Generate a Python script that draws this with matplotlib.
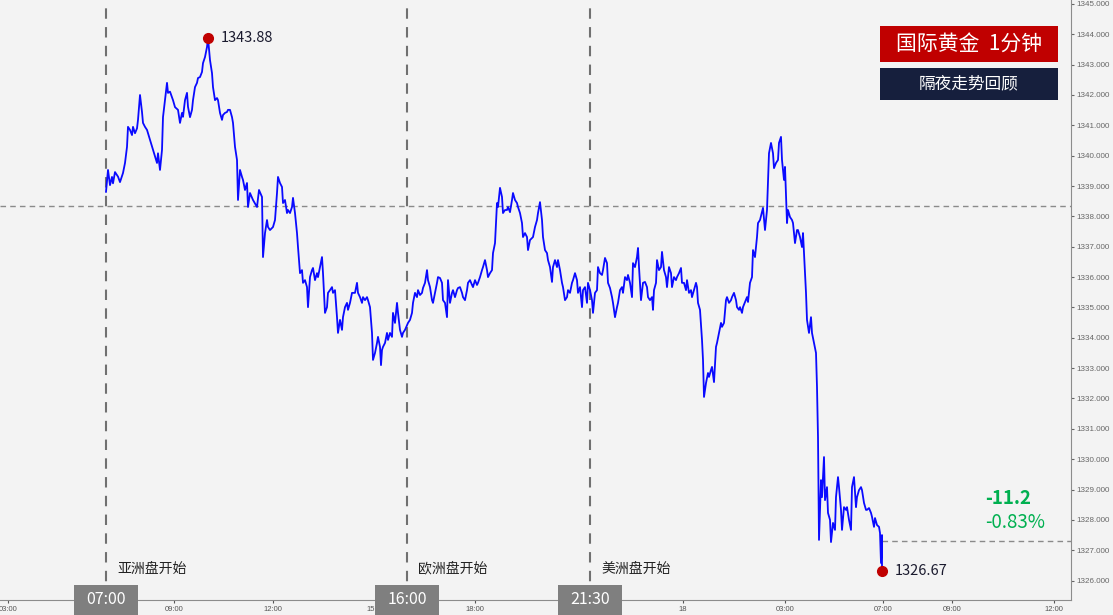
import matplotlib
matplotlib.use("Agg")
import matplotlib.pyplot as plt
import matplotlib.transforms as mtransforms
from matplotlib.patches import Rectangle
from matplotlib.ticker import MultipleLocator, FormatStrFormatter

plt.rcParams['font.family'] = ['Noto Sans CJK SC', 'DejaVu Sans']

# 1-minute gold price, bar offset from 07:00 (Asia open)
bars = [
    0, 2, 4, 6, 7, 9, 12, 14, 17, 19, 21, 22, 24, 26, 27, 29, 31, 32, 34, 36,
    37, 39, 41, 44, 47, 49, 51, 52, 54, 56, 57, 59, 61, 62, 64, 66, 67, 69, 72, 74,
    76, 77, 79, 81, 82, 84, 86, 87, 89, 91, 92, 94, 96, 97, 99, 101, 102, 104, 106, 107,
    109, 111, 112, 114, 116, 117, 119, 121, 122, 124, 126, 127, 129, 131, 132, 134, 136, 137, 139, 141,
    142, 144, 147, 151, 153,
    156, 157, 159, 161, 162, 164, 166, 167, 169, 171, 172, 174, 176, 177, 179, 181, 182, 184, 186, 187,
    189, 191, 192, 194, 196, 197, 199, 201, 202, 204, 206, 207, 209, 211, 212, 214, 216, 217, 219, 221,
    222, 224, 226, 227, 229, 231, 232, 234, 236, 237, 239, 241, 242, 244, 246, 249, 251, 252, 254, 256,
    257, 259, 261, 262, 264, 266, 267, 269, 271, 272, 274, 275, 276, 277, 279, 281, 282, 284, 286, 287,
    289, 291, 292, 294, 296, 297, 299, 302, 304, 306, 307, 309, 311, 312,
    314, 316, 317, 319, 321, 322, 324, 326, 327, 329, 331, 332, 334, 336, 337, 339, 341, 342, 344, 346,
    347, 349, 351, 352, 354, 356, 357, 359, 361, 362, 364, 366, 367, 369, 371, 372, 374, 376, 377, 379,
    381, 382, 384, 386, 387, 389, 391, 392, 394, 396, 397, 399, 401, 402, 404, 406, 407, 409, 411, 412,
    414, 416, 417, 419, 421, 422, 424, 426, 427, 429, 431, 432, 434, 436, 437, 439, 441, 442, 444, 446,
    447, 449, 451, 452, 454, 456, 457, 459, 461, 462, 464, 466, 467, 469, 471, 472, 474,
    476, 477, 479, 481, 482, 484, 486, 487, 489, 491, 492, 494, 496, 497, 499, 501, 502, 504, 506, 507,
    509, 511, 512, 514, 516, 517, 519, 521, 522, 524, 526, 527, 529, 531, 532, 533, 535, 537, 539, 541,
    542, 544, 546, 547, 548, 550, 551, 553, 555, 556, 558, 560, 561, 563, 565, 566, 568, 570, 571, 573,
    575, 576, 578, 580, 581, 583, 585, 586, 588, 590, 591, 592, 594, 596, 597, 598, 600, 602, 603, 605,
    606, 608, 610, 611, 613, 615, 616, 618, 620, 621, 623, 625, 626, 628, 630, 631, 633,
    634, 636, 637, 639, 641, 642, 644, 646, 647, 649, 651, 652, 654, 656, 657, 659, 661, 662, 663, 665,
    667, 668, 670, 672, 673, 675, 676, 678, 679, 681, 682, 684, 686, 687, 689, 691, 692, 694, 696, 697,
    698, 700, 701, 703, 705, 706, 708, 710, 711, 712, 713, 715, 716, 718, 719, 721, 722, 724, 725, 727,
    729, 730, 732, 733, 735, 736, 738, 740, 741, 743, 745, 746, 748, 750, 751, 753, 755, 756, 758, 760,
    761, 763, 765, 766, 768, 769, 771, 773, 774, 775, 776, 776,
]
prices = [
    1338.81, 1339.53, 1339.03, 1339.30, 1339.09, 1339.46, 1339.31, 1339.13, 1339.43, 1339.76,
    1340.29, 1340.95, 1340.85, 1340.68, 1340.95, 1340.74, 1340.90, 1341.18, 1342.00, 1341.44,
    1341.08, 1340.95, 1340.85, 1340.52, 1340.19, 1339.96, 1339.76, 1340.08, 1339.53, 1340.19,
    1341.27, 1341.83, 1342.40, 1342.07, 1342.11, 1341.93, 1341.83, 1341.60, 1341.51, 1341.08,
    1341.41, 1341.28, 1341.83, 1342.07, 1341.61, 1341.27, 1341.51, 1341.83, 1342.26, 1342.40,
    1342.56, 1342.59, 1342.76, 1343.05, 1343.25, 1343.58, 1343.88, 1343.15, 1342.72, 1342.26,
    1341.83, 1341.90, 1341.83, 1341.41, 1341.18, 1341.34, 1341.41, 1341.44, 1341.51, 1341.51,
    1341.27, 1341.08, 1340.29, 1339.86, 1338.54, 1339.53, 1339.30, 1339.20, 1338.87, 1339.10,
    1338.31, 1338.77, 1338.54, 1338.31, 1338.87,
    1338.64, 1336.66, 1337.45, 1337.88, 1337.65, 1337.55, 1337.62, 1337.65, 1337.88, 1338.77,
    1339.30, 1339.10, 1338.97, 1338.44, 1338.54, 1338.11, 1338.21, 1338.11, 1338.31, 1338.61,
    1338.11, 1337.45, 1336.99, 1336.13, 1336.23, 1335.81, 1335.90, 1335.67, 1335.01, 1336.00,
    1336.23, 1336.30, 1335.90, 1336.13, 1336.00, 1336.33, 1336.66, 1336.13, 1334.82, 1335.01,
    1335.48, 1335.57, 1335.67, 1335.48, 1335.57, 1334.68, 1334.16, 1334.59, 1334.26, 1334.68,
    1335.01, 1335.15, 1334.92, 1335.15, 1335.48, 1335.48, 1335.81, 1335.48, 1335.34, 1335.15,
    1335.34, 1335.24, 1335.34, 1335.24, 1335.01, 1334.16, 1333.27, 1333.50, 1333.83, 1334.03,
    1333.70, 1333.10, 1333.60, 1333.70, 1333.83, 1334.16, 1333.93, 1334.16, 1334.03, 1334.82,
    1334.49, 1335.15, 1334.82, 1334.26, 1334.03, 1334.16, 1334.26, 1334.49, 1334.59, 1334.82,
    1335.15, 1335.48, 1335.34, 1335.57,
    1335.41, 1335.48, 1335.64, 1335.81, 1336.23, 1335.90, 1335.67, 1335.24, 1335.15, 1335.48,
    1335.81, 1336.00, 1335.97, 1335.81, 1335.24, 1335.15, 1334.68, 1335.90, 1335.15, 1335.48,
    1335.57, 1335.34, 1335.57, 1335.64, 1335.67, 1335.48, 1335.34, 1335.24, 1335.57, 1335.81,
    1335.90, 1335.74, 1335.67, 1335.90, 1335.74, 1335.81, 1336.00, 1336.23, 1336.33, 1336.56,
    1336.23, 1336.00, 1336.13, 1336.23, 1336.79, 1337.12, 1338.44, 1338.31, 1338.94, 1338.64,
    1338.11, 1338.21, 1338.21, 1338.31, 1338.14, 1338.54, 1338.77, 1338.54, 1338.44, 1338.31,
    1338.11, 1337.78, 1337.32, 1337.45, 1337.32, 1336.89, 1337.22, 1337.29, 1337.32, 1337.65,
    1337.88, 1338.11, 1338.47, 1337.88, 1337.32, 1336.89, 1336.79, 1336.56, 1336.33, 1335.84,
    1336.33, 1336.56, 1336.33, 1336.56, 1336.23, 1335.81, 1335.67, 1335.24, 1335.34, 1335.57,
    1335.48, 1335.81, 1335.90, 1336.13, 1335.90, 1335.48, 1335.67,
    1335.01, 1335.57, 1335.67, 1335.15, 1335.81, 1335.57, 1335.24, 1334.82, 1335.48, 1335.57,
    1336.33, 1336.13, 1336.07, 1336.23, 1336.63, 1336.46, 1335.81, 1335.64, 1335.34, 1335.15,
    1334.68, 1335.01, 1335.15, 1335.57, 1335.67, 1335.48, 1336.00, 1335.90, 1336.07, 1335.81,
    1335.34, 1336.46, 1336.33, 1336.66, 1336.96, 1336.33, 1335.24, 1335.81, 1335.84, 1335.67,
    1335.34, 1335.24, 1335.34, 1334.92, 1335.57, 1335.81, 1336.56, 1336.23, 1336.33, 1336.83,
    1336.23, 1336.00, 1335.67, 1336.33, 1336.13, 1335.67, 1336.00, 1335.90, 1336.00, 1336.13,
    1336.30, 1335.81, 1335.81, 1335.57, 1335.90, 1335.48, 1335.57, 1335.34, 1335.57, 1335.81,
    1335.67, 1335.15, 1334.92, 1333.93, 1333.27, 1332.05, 1332.51, 1332.84, 1332.71, 1332.94,
    1333.04, 1332.54, 1333.70, 1333.83, 1334.16, 1334.49, 1334.36, 1334.49, 1335.24, 1335.34,
    1335.15, 1335.24, 1335.34, 1335.48, 1335.24, 1335.01, 1334.92,
    1335.01, 1334.82, 1335.01, 1335.18, 1335.34, 1335.18, 1335.81, 1336.00, 1336.89, 1336.66,
    1337.32, 1337.78, 1337.88, 1338.14, 1338.28, 1337.55, 1338.21, 1339.20, 1340.08, 1340.42,
    1340.08, 1339.59, 1339.76, 1339.86, 1340.42, 1340.62, 1339.86, 1339.20, 1339.63, 1337.78,
    1338.21, 1337.98, 1337.88, 1337.78, 1337.12, 1337.55, 1337.55, 1337.32, 1336.99, 1337.45,
    1336.79, 1335.48, 1334.59, 1334.16, 1334.68, 1334.16, 1333.83, 1333.50, 1332.38, 1330.73,
    1327.34, 1329.31, 1328.75, 1330.07, 1328.65, 1329.08, 1328.23, 1328.00, 1327.27, 1327.90,
    1327.67, 1328.75, 1329.41, 1329.08, 1328.33, 1327.67, 1328.42, 1328.33, 1328.42, 1328.00,
    1327.67, 1329.08, 1329.41, 1328.42, 1328.75, 1328.98, 1329.08, 1328.98, 1328.56, 1328.33,
    1328.33, 1328.39, 1328.23, 1328.10, 1327.77, 1328.06, 1327.83, 1327.77, 1327.57, 1326.58,
    1327.50, 1326.32,
]

session_bars = [0, 301, 484]
session_times = ['07:00', '16:00', '21:30']
session_names = ['亚洲盘开始', '欧洲盘开始', '美洲盘开始']

xtick_bars = [-98, 68, 167, 270, 369, 577, 679, 777, 846, 948]
xtick_labels = ['03:00', '09:00', '12:00', '15:00', '18:00', '18', '03:00', '07:00', '09:00', '12:00']

ref_price = 1338.35
close_price = 1327.3
low_label = '1326.67'
change_abs = '-11.2'
change_pct = '-0.83%'
title = '国际黄金  1分钟'
subtitle = '隔夜走势回顾'

bg = '#f3f3f3'
fig = plt.figure(figsize=(11.13, 6.15), dpi=100, facecolor=bg)
ax = fig.add_axes([0, 15 / 615, 1071 / 1113, 600 / 615])
ax.set_facecolor(bg)

ax.plot(bars, prices, color='#0a0aff', lw=1.3, zorder=3)
ax.set_xlim(-106, 965)
ax.set_ylim(1325.36, 1345.13)

# reference lines
ax.axhline(ref_price, color='#8a8a8a', lw=1, ls=(0, (4, 3)), zorder=2)
ax.hlines(close_price, bars[-1], 965, color='#8a8a8a', lw=1, ls=(0, (4, 3)), zorder=2)

trans = mtransforms.blended_transform_factory(ax.transData, ax.transAxes)
for b, t, name in zip(session_bars, session_times, session_names):
    ax.axvline(b, color='#707070', lw=1.5, ls=(0, (5, 4)), zorder=2)
    ax.add_patch(Rectangle((b - 32, -0.025), 64, 0.05, transform=trans,
                           facecolor='#7f7f7f', edgecolor='none', clip_on=False, zorder=6))
    ax.text(b, 0.0, t, transform=trans, ha='center', va='center', color='white',
            fontsize=11.5, zorder=7, clip_on=False)
    ax.text(b + 11, 0.052, name, transform=trans, ha='left', va='center',
            color='#222222', fontsize=10)

# high / low markers
i_max = prices.index(max(prices))
ax.plot(bars[i_max], prices[i_max], 'o', color='#c00000', ms=7, zorder=5)
ax.annotate(f'{prices[i_max]:.2f}', (bars[i_max], prices[i_max]), xytext=(13, 0),
            textcoords='offset pixels', va='center', fontsize=10.5, color='#1a1a2e')
ax.plot(bars[-1], prices[-1], 'o', color='#c00000', ms=7, zorder=5)
ax.annotate(low_label, (bars[-1], prices[-1]), xytext=(13, 0),
            textcoords='offset pixels', va='center', fontsize=10.5, color='#1a1a2e')

ax.text(879, 1328.72, change_abs, ha='left', va='center', fontsize=13.5,
        fontweight='bold', color='#00b050')
ax.text(879, 1327.90, change_pct, ha='left', va='center', fontsize=13.5,
        color='#00b050')

# axes styling
ax.yaxis.tick_right()
ax.yaxis.set_major_locator(MultipleLocator(1))
ax.yaxis.set_major_formatter(FormatStrFormatter('%.3f'))
ax.tick_params(axis='y', labelsize=5.8, colors='#666666', length=2.5, pad=1.5,
               labelfontfamily='Liberation Sans')
ax.set_xticks(xtick_bars, xtick_labels)
ax.tick_params(axis='x', labelsize=5.5, colors='#555555', length=2, pad=2,
               labelfontfamily='Liberation Sans')
for s in ['top', 'left']:
    ax.spines[s].set_visible(False)
for s in ['right', 'bottom']:
    ax.spines[s].set_color('#8c8c8c')

# title boxes
fig.add_artist(Rectangle((880 / 1113, 1 - 62 / 615), 178 / 1113, 36 / 615,
                         transform=fig.transFigure, facecolor='#c00000', edgecolor='none'))
fig.text(969 / 1113, 1 - 44 / 615, title, ha='center', va='center', color='white', fontsize=15)
fig.add_artist(Rectangle((880 / 1113, 1 - 100 / 615), 178 / 1113, 32 / 615,
                         transform=fig.transFigure, facecolor='#161f3d', edgecolor='none'))
fig.text(969 / 1113, 1 - 84 / 615, subtitle, ha='center', va='center', color='white', fontsize=12)

fig.savefig('out.png', dpi=100, facecolor=bg)
